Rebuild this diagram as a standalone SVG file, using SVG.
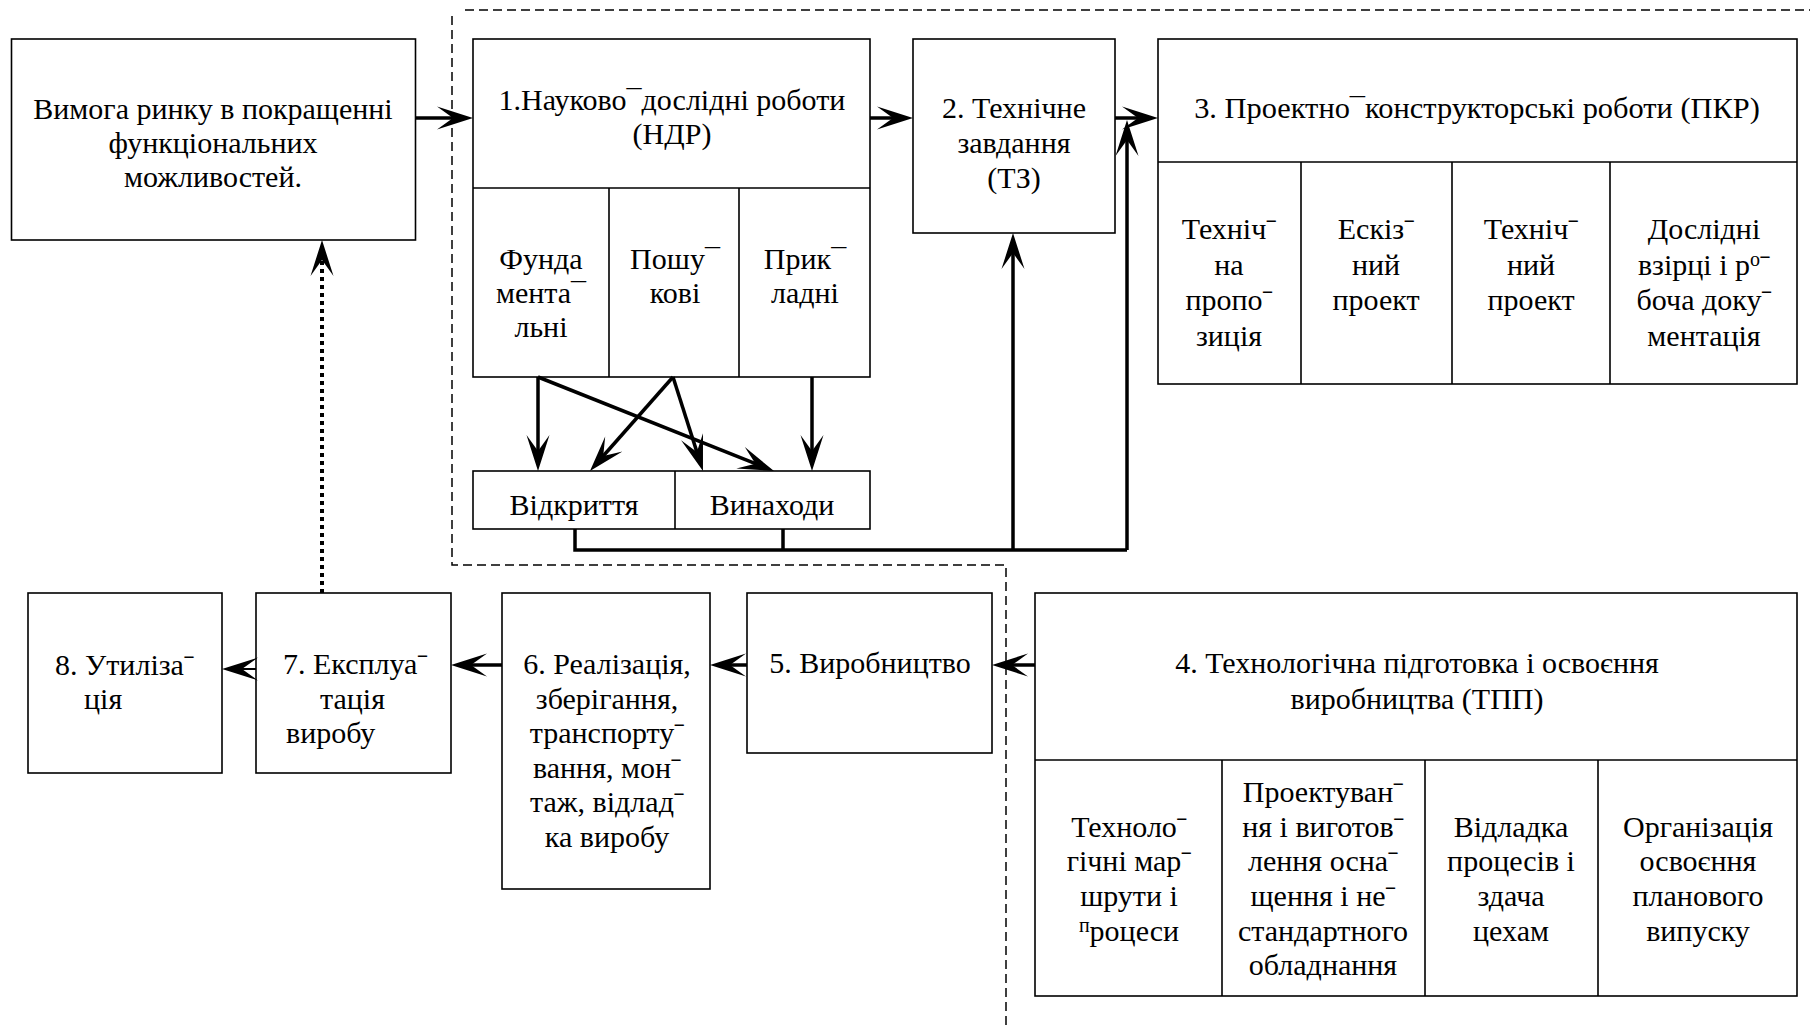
<svg xmlns="http://www.w3.org/2000/svg" width="1810" height="1025" viewBox="0 0 1810 1025">
<defs>
<style>
.box{fill:#fff;stroke:#000;stroke-width:1.6}
.dv{stroke:#000;stroke-width:1.6;fill:none}
text{font-family:"Liberation Serif","Times New Roman",serif;font-size:30px;fill:#000}
.c{text-anchor:middle}
.s{text-anchor:start}
.ar{stroke:#000;stroke-width:3.5;fill:none;marker-end:url(#ah)}
.thin{stroke-width:2}
.ln{stroke:#000;stroke-width:3.5;fill:none}
.dash{stroke:#000;stroke-width:1.5;fill:none;stroke-dasharray:9 5}
.dot{stroke:#000;stroke-width:4;fill:none;stroke-dasharray:4 4;marker-end:url(#ah)}
.sm{font-size:20px}
</style>
<marker id="ah" markerUnits="userSpaceOnUse" viewBox="-38 -13 40 26" markerWidth="40" markerHeight="26" refX="-18" refY="0" orient="auto">
<path d="M0,0 L-36,-11.5 L-20,0 L-36,11.5 Z" fill="#000"/>
</marker>
</defs>
<rect width="1810" height="1025" fill="#fff"/>

<g id="boundary">
<path class="dash" d="M465,10 H1810"/>
<path class="dash" d="M452,16 V565 H1006 V1025"/>
</g>

<g id="market">
<rect class="box" x="11.5" y="39" width="404" height="201"/>
<text class="c" x="213" y="119">Вимога ринку в покращенні</text>
<text class="c" x="213" y="153">функціональних</text>
<text class="c" x="213" y="187">можливостей.</text>
</g>

<g id="ndr">
<rect class="box" x="473" y="39" width="397" height="338"/>
<path class="dv" d="M473,188 H870 M609,188 V377 M739,188 V377"/>
<text class="c" x="672" y="110">1.Науково¯дослідні роботи</text>
<text class="c" x="672" y="144">(НДР)</text>
<text class="c" x="541" y="269">Фунда</text>
<text class="c" x="541" y="303">мента¯</text>
<text class="c" x="541" y="337">льні</text>
<text class="c" x="675" y="269">Пошу¯</text>
<text class="c" x="675" y="303">кові</text>
<text class="c" x="805" y="269">Прик¯</text>
<text class="c" x="805" y="303">ладні</text>
</g>

<g id="results">
<rect class="box" x="473" y="471" width="397" height="58"/>
<path class="dv" d="M675,471 V529"/>
<text class="c" x="574" y="515">Відкриття</text>
<text class="c" x="772" y="515">Винаходи</text>
</g>

<g id="tz">
<rect class="box" x="913" y="39" width="202" height="194"/>
<text class="c" x="1014" y="118">2. Технічне</text>
<text class="c" x="1014" y="153">завдання</text>
<text class="c" x="1014" y="188">(ТЗ)</text>
</g>

<g id="pkr">
<rect class="box" x="1158" y="39" width="639" height="345"/>
<path class="dv" d="M1158,162 H1797 M1301,162 V384 M1452,162 V384 M1610,162 V384"/>
<text class="c" x="1477" y="118" style="font-size:30.4px">3. Проектно¯конструкторські роботи (ПКР)</text>
<text class="c" x="1229" y="239">Технічˉ</text>
<text class="c" x="1229" y="275">на</text>
<text class="c" x="1229" y="310">пропоˉ</text>
<text class="c" x="1229" y="346">зиція</text>
<text class="c" x="1376" y="239">Ескізˉ</text>
<text class="c" x="1376" y="275">ний</text>
<text class="c" x="1376" y="310">проект</text>
<text class="c" x="1531" y="239">Технічˉ</text>
<text class="c" x="1531" y="275">ний</text>
<text class="c" x="1531" y="310">проект</text>
<text class="c" x="1704" y="239">Дослідні</text>
<text class="c" x="1704" y="275">взірці і р<tspan class="sm" dy="-9">о</tspan><tspan dy="9">ˉ</tspan></text>
<text class="c" x="1704" y="310">боча докуˉ</text>
<text class="c" x="1704" y="346">ментація</text>
</g>

<g id="tpp">
<rect class="box" x="1035" y="593" width="762" height="403"/>
<path class="dv" d="M1035,760 H1797 M1222,760 V996 M1425,760 V996 M1598,760 V996"/>
<text class="c" x="1417" y="673">4. Технологічна підготовка і освоєння</text>
<text class="c" x="1417" y="709">виробництва (ТПП)</text>
<text class="c" x="1129" y="837">Технолоˉ</text>
<text class="c" x="1129" y="871">гічні марˉ</text>
<text class="c" x="1129" y="906">шрути і</text>
<text class="c" x="1129" y="941"><tspan class="sm" dy="-9">п</tspan><tspan dy="9">роцеси</tspan></text>
<text class="c" x="1323" y="802">Проектуванˉ</text>
<text class="c" x="1323" y="837">ня і виготовˉ</text>
<text class="c" x="1323" y="871">лення оснаˉ</text>
<text class="c" x="1323" y="906">щення і неˉ</text>
<text class="c" x="1323" y="941">стандартного</text>
<text class="c" x="1323" y="975">обладнання</text>
<text class="c" x="1511" y="837">Відладка</text>
<text class="c" x="1511" y="871">процесів і</text>
<text class="c" x="1511" y="906">здача</text>
<text class="c" x="1511" y="941">цехам</text>
<text class="c" x="1698" y="837">Організація</text>
<text class="c" x="1698" y="871">освоєння</text>
<text class="c" x="1698" y="906">планового</text>
<text class="c" x="1698" y="941">випуску</text>
</g>

<g id="production">
<rect class="box" x="747" y="593" width="245" height="160"/>
<text class="c" x="870" y="673">5. Виробництво</text>
</g>

<g id="realization">
<rect class="box" x="502" y="593" width="208" height="296"/>
<text class="c" x="607" y="674">6. Реалізація,</text>
<text class="c" x="607" y="709">зберігання,</text>
<text class="c" x="607" y="743">транспортуˉ</text>
<text class="c" x="607" y="778">вання, монˉ</text>
<text class="c" x="607" y="812">таж, відладˉ</text>
<text class="c" x="607" y="847">ка виробу</text>
</g>

<g id="exploitation">
<rect class="box" x="256" y="593" width="195" height="180"/>
<text class="s" x="283" y="674">7. Експлуаˉ</text>
<text class="s" x="320" y="709">тація</text>
<text class="s" x="286" y="743">виробу</text>
</g>

<g id="utilization">
<rect class="box" x="28" y="593" width="194" height="180"/>
<text class="s" x="55" y="675">8. Утилізаˉ</text>
<text class="s" x="84" y="709">ція</text>
</g>

<g id="connectors">
<path class="ar" d="M415,118 H455"/>
<path class="ar" d="M870,118 H895"/>
<path class="ar" d="M1115,118 H1140"/>
<path class="ln" d="M575,529 V550 H1127 M783,529 V550"/>
<path class="ar" d="M1127,550 V138"/>
<path class="ar" d="M1013,550 V251"/>
<path class="ar" d="M538,377 V453"/>
<path class="ar" d="M538,377 L757.3,464.4"/>
<path class="ar" d="M673,377 L601.9,457.5"/>
<path class="ar" d="M673,377 L697.5,453.9"/>
<path class="ar" d="M812,377 V453"/>
<path class="ar" d="M1035,665 H1010"/>
<path class="ar" d="M747,665 H728"/>
<path class="ar" d="M502,665 H469"/>
<path class="ar thin" d="M256,669 H240"/>
<path class="dot" d="M322,593 V258"/>
</g>
</svg>
